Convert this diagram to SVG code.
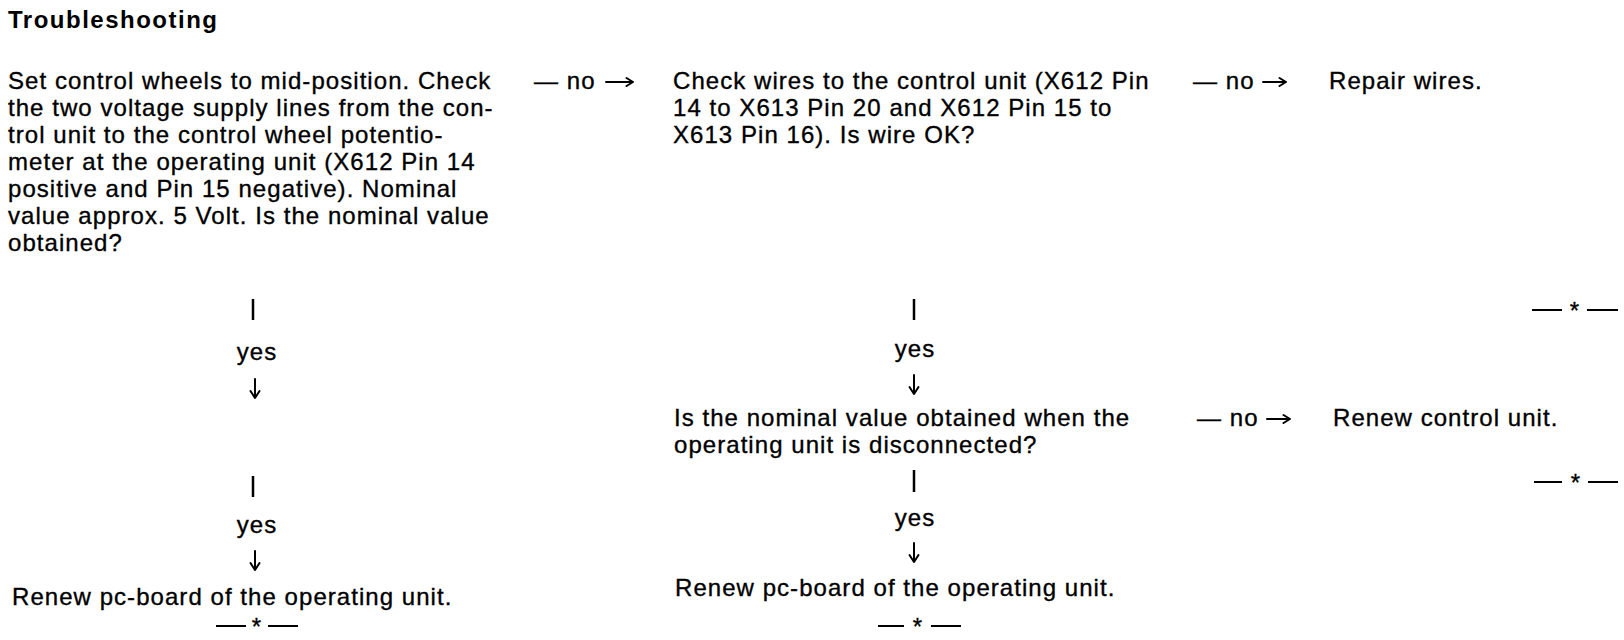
<svg xmlns="http://www.w3.org/2000/svg" width="1624" height="640" viewBox="0 0 1624 640">
<style>
text{font-family:"Liberation Sans",Arial,sans-serif;fill:#000}
.t{font-size:24px;letter-spacing:1.05px;stroke:#000;stroke-width:0.35}
.h{font-size:24px;font-weight:bold;letter-spacing:1.5px}
.c{text-anchor:middle}
.bar{stroke:#000;stroke-width:2.5}
.sep{stroke:#000;stroke-width:2}
.arr{fill:none;stroke:#000;stroke-width:2;stroke-linecap:round;stroke-linejoin:round}
</style>
<rect width="1624" height="640" fill="#fff"/>
<text class="h" x="8" y="28">Troubleshooting</text>

<g id="n1">
<text class="t" x="8" y="89">Set control wheels to mid-position. Check</text>
<text class="t" x="8" y="116">the two voltage supply lines from the con-</text>
<text class="t" x="8" y="143">trol unit to the control wheel potentio-</text>
<text class="t" x="8" y="170">meter at the operating unit (X612 Pin 14</text>
<text class="t" x="8" y="197">positive and Pin 15 negative). Nominal</text>
<text class="t" x="8" y="224">value approx. 5 Volt. Is the nominal value</text>
<text class="t" x="8" y="251">obtained?</text>
</g>
<g id="n2">
<text class="t" x="673" y="89">Check wires to the control unit (X612 Pin</text>
<text class="t" x="673" y="116">14 to X613 Pin 20 and X612 Pin 15 to</text>
<text class="t" x="673" y="143">X613 Pin 16). Is wire OK?</text>
</g>
<g id="n3">
<text class="t" x="1329" y="89">Repair wires.</text>
<g class="sep"><line x1="1532" y1="310" x2="1562" y2="310"/><line x1="1587" y1="310" x2="1618" y2="310"/></g>
<text class="t c" x="1575" y="319">*</text>
</g>
<g id="n4">
<text class="t" x="674" y="426">Is the nominal value obtained when the</text>
<text class="t" x="674" y="453">operating unit is disconnected?</text>
</g>
<g id="n5">
<text class="t" x="1333" y="426">Renew control unit.</text>
<g class="sep"><line x1="1534" y1="482" x2="1562" y2="482"/><line x1="1588" y1="482" x2="1618" y2="482"/></g>
<text class="t c" x="1576" y="491">*</text>
</g>
<g id="n6">
<text class="t" x="12" y="605">Renew pc-board of the operating unit.</text>
<g class="sep"><line x1="216" y1="626" x2="246" y2="626"/><line x1="268" y1="626" x2="298" y2="626"/></g>
<text class="t c" x="257" y="635">*</text>
</g>
<g id="n7">
<text class="t" x="675" y="596">Renew pc-board of the operating unit.</text>
<g class="sep"><line x1="878" y1="626" x2="904" y2="626"/><line x1="931" y1="626" x2="961" y2="626"/></g>
<text class="t c" x="918" y="635">*</text>
</g>

<g id="connectors">
<text class="t" x="534" y="89">— no</text>
<path class="arr" d="M606 82H633M626.5 78L633 82L626.5 86"/>
<text class="t" x="1193" y="89">— no</text>
<path class="arr" d="M1263 82H1286M1279.5 78L1286 82L1279.5 86"/>
<text class="t" x="1197" y="426">— no</text>
<path class="arr" d="M1267 419H1290M1283.5 415L1290 419L1283.5 423"/>

<line class="bar" x1="253" y1="299" x2="253" y2="320"/>
<text class="t c" x="257" y="360">yes</text>
<path class="arr" d="M255 379V398M250.5 391L255 398L259.5 391"/>

<line class="bar" x1="253" y1="476" x2="253" y2="497"/>
<text class="t c" x="257" y="533">yes</text>
<path class="arr" d="M255 551V570M250.5 563L255 570L259.5 563"/>

<line class="bar" x1="914" y1="299" x2="914" y2="320"/>
<text class="t c" x="915" y="357">yes</text>
<path class="arr" d="M914 375V394M909.5 387L914 394L918.5 387"/>

<line class="bar" x1="914" y1="470" x2="914" y2="492"/>
<text class="t c" x="915" y="526">yes</text>
<path class="arr" d="M914 543V562M909.5 555L914 562L918.5 555"/>
</g>
</svg>
